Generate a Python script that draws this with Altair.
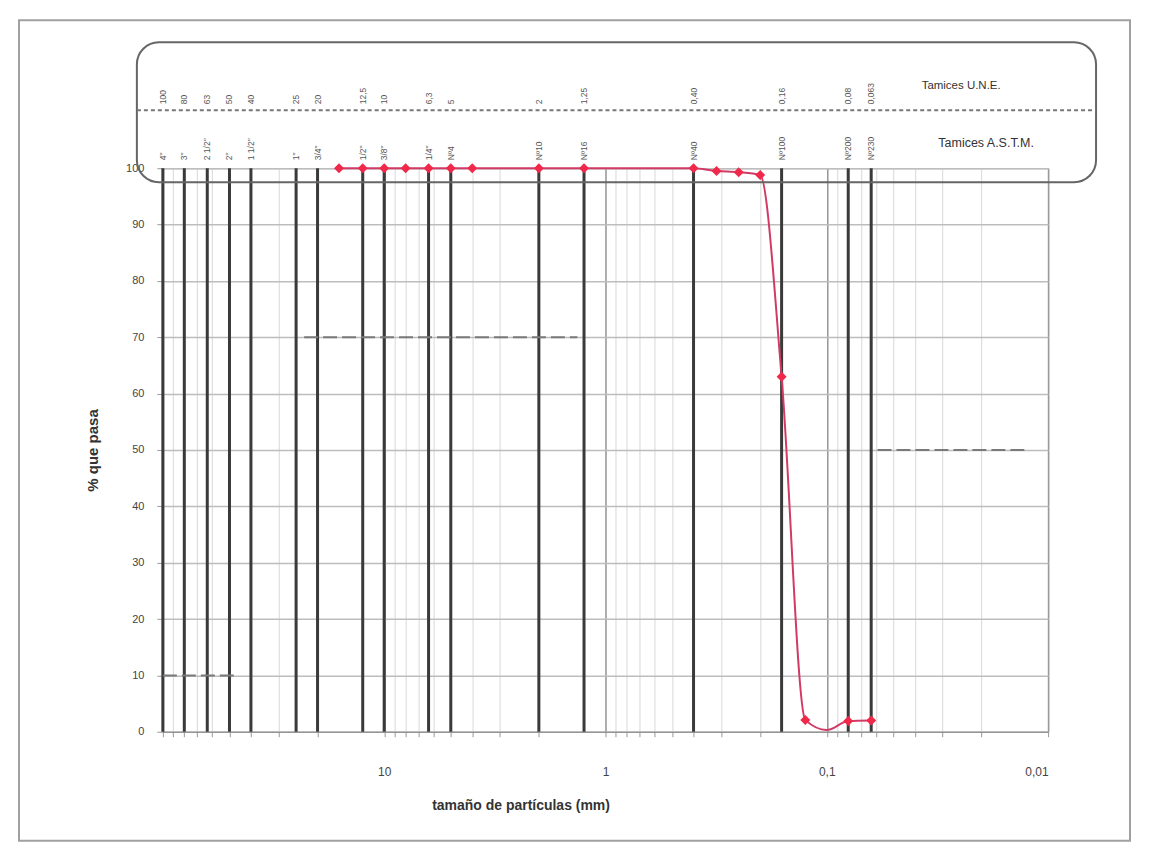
import altair as alt
import pandas as pd

# ---------------- data ----------------
# Sieve series (mm) drawn as thick vertical lines, with their labels
sieve_mm = [100, 80, 63, 50, 40, 25, 20, 12.5, 10, 6.3, 5, 2, 1.25, 0.4, 0.16, 0.08, 0.063]
une_labels = ["100", "80", "63", "50", "40", "25", "20", "12,5", "10", "6,3", "5", "2",
              "1,25", "0,40", "0,16", "0,08", "0,063"]
astm_labels = ['4"', '3"', '2 1/2"', '2"', '1 1/2"', '1"', '3/4"', '1/2"', '3/8"', '1/4"',
               'Nº4', 'Nº10', 'Nº16', 'Nº40', 'Nº100', 'Nº200', 'Nº230']

# Grading curve: measured points (markers)
size_mm = [16, 12.5, 10, 8, 6.3, 5, 4, 2, 1.25, 0.4, 0.315, 0.25, 0.2, 0.16, 0.125, 0.08, 0.063]
pct_pass = [100, 100, 100, 100, 100, 100, 100, 100, 100, 100, 99.5, 99.3, 98.8, 63, 2.1, 1.9, 2]
# Curve path as drawn (includes the dip read near 0,1 mm)
path_mm = [16, 12.5, 10, 8, 6.3, 5, 4, 2, 1.25, 0.4, 0.315, 0.25, 0.2, 0.16, 0.125, 0.1, 0.08, 0.063]
path_pct = [100, 100, 100, 100, 100, 100, 100, 100, 100, 100, 99.5, 99.3, 98.8, 63, 2.1, 0.3, 1.9, 2]

# Dashed reference segments
seg_from = [23, 100, 0.059]
seg_to = [1.34, 47, 0.0128]
seg_pct = [70, 10, 50]

# Axis ticks / gridlines
x_ticks = [0.01, 0.02, 0.03, 0.04, 0.05, 0.06, 0.07, 0.08, 0.09,
           0.1, 0.2, 0.3, 0.4, 0.5, 0.6, 0.7, 0.8, 0.9,
           1, 2, 3, 4, 5, 6, 7, 8, 9,
           10, 20, 30, 40, 50, 60, 70, 80, 90, 100]
x_labelled = [10, 1, 0.1, 0.01]
x_label_text = ["10", "1", "0,1", "0,01"]
y_ticks = [0, 10, 20, 30, 40, 50, 60, 70, 80, 90, 100]

W, H = 886, 564
FONT = "Liberation Sans"

curve = pd.DataFrame({"mm": size_mm, "pct": pct_pass})
path = pd.DataFrame({"mm": path_mm, "pct": path_pct})
sieves = pd.DataFrame({"mm": sieve_mm, "une": une_labels, "astm": astm_labels})
segs = pd.DataFrame({"mm": seg_from, "mm2": seg_to, "pct": seg_pct})

label_expr = " : ".join(
    f"datum.value == {v} ? '{t}'" for v, t in zip(x_labelled, x_label_text)
) + " : ''"
major_test = " || ".join(f"datum.value == {v}" for v in x_labelled + [100])

xscale = alt.Scale(type="log", domain=[0.01, 100], reverse=True)
yscale = alt.Scale(domain=[0, 100])

x_axis = alt.Axis(
    values=x_ticks, labelExpr=label_expr, grid=True,
    gridColor={"condition": {"test": major_test, "value": "#9a9a9a"}, "value": "#d8d8d8"},
    gridWidth={"condition": {"test": major_test, "value": 1.6}, "value": 1},
    tickSize=5, tickColor="#999", labelPadding=30, labelFontSize=12, labelColor="#444",
    labelOverlap=False, labelBound=False, domainColor="#888",
    title="tamaño de partículas (mm)", titleFontSize=14, titleFontWeight="bold",
    titleColor="#333", titleX=358, titleY=67, titleAnchor="middle",
)
y_axis = alt.Axis(
    values=y_ticks, grid=True, gridColor="#bdbdbd", gridWidth=1.5,
    tickSize=6, tickColor="#999", labelPadding=13, labelFontSize=11, labelColor="#444",
    domainColor="#888",
    title="% que pasa", titleFontSize=15, titleFontWeight="bold", titleColor="#333",
    titleX=-70, titleY=H / 2, titleAngle=270, titleAlign="center", titleBaseline="middle",
)

X = alt.X("mm:Q", scale=xscale, axis=x_axis)
Y = alt.Y("pct:Q", scale=yscale, axis=y_axis)

one = alt.Data(values=[{"a": 1}])

frame = alt.Chart(one).mark_rect(fillOpacity=0, stroke="#a0a0a0", strokeWidth=2).encode(
    x=alt.value(-144), x2=alt.value(968), y=alt.value(-148), y2=alt.value(673)
)

sieve_lines = alt.Chart(sieves).mark_rule(color="#3a3a3a", strokeWidth=3).encode(
    x=X, y=alt.value(0), y2=alt.value(H)
)

dashed = alt.Chart(segs).mark_rule(color="#7a7a7a", strokeWidth=2, strokeDash=[14, 5]).encode(
    x=X, x2="mm2:Q", y=Y
)

line = alt.Chart(path).mark_line(
    color="#d23a66", strokeWidth=2, interpolate="monotone"
).encode(x=X, y=Y)
points = alt.Chart(curve).mark_point(
    shape="diamond", filled=True, size=100, color="#f0284a", opacity=1
).encode(x=X, y=Y)

box = alt.Chart(one).mark_rect(
    fillOpacity=0, stroke="#666", strokeWidth=2, cornerRadius=22
).encode(x=alt.value(-26), x2=alt.value(934), y=alt.value(-126), y2=alt.value(14))

sep = alt.Chart(one).mark_rule(color="#777", strokeWidth=2, strokeDash=[4, 3]).encode(
    x=alt.value(-26), x2=alt.value(934), y=alt.value(-58)
)

une_text = alt.Chart(sieves).mark_text(
    angle=270, align="left", baseline="middle", fontSize=8.5, color="#555", font=FONT
).encode(x=X, y=alt.value(-64), text="une:N")

astm_text = alt.Chart(sieves).mark_text(
    angle=270, align="left", baseline="middle", fontSize=8.5, color="#555", font=FONT
).encode(x=X, y=alt.value(-8), text="astm:N")

t_une = alt.Chart(one).mark_text(fontSize=11.5, color="#333", font=FONT, align="center").encode(
    x=alt.value(799), y=alt.value(-82), text=alt.value("Tamices U.N.E.")
)
t_astm = alt.Chart(one).mark_text(fontSize=12.5, color="#333", font=FONT, align="center").encode(
    x=alt.value(824), y=alt.value(-25), text=alt.value("Tamices A.S.T.M.")
)

chart = alt.layer(
    frame, sieve_lines, dashed, line, points, box, sep, une_text, astm_text, t_une, t_astm
).properties(
    width=W, height=H,
    autosize=alt.AutoSizeParams(type="none"),
    padding={"left": 155, "top": 160, "right": 95, "bottom": 112},
).configure(font=FONT).configure_view(stroke="#999", strokeWidth=1)

chart.save("out.html", embed_options={"renderer": "svg", "actions": False})
